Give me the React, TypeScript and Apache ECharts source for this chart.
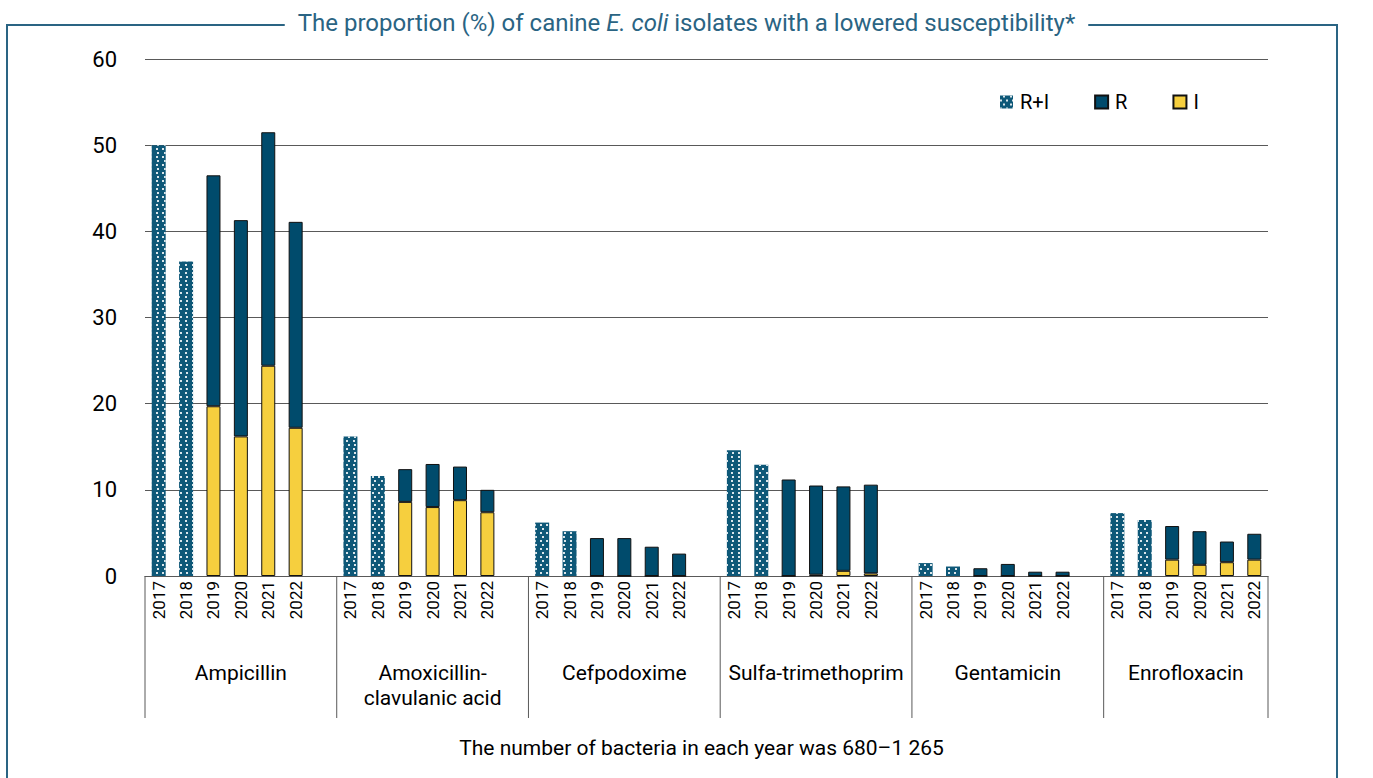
import React, { useEffect, useRef } from 'react';
import * as echarts from 'echarts';

const groups = ['Ampicillin', 'Amoxicillin-\nclavulanic acid', 'Cefpodoxime', 'Sulfa-trimethoprim', 'Gentamicin', 'Enrofloxacin'];
const years = ['2017', '2018', '2019', '2020', '2021', '2022'];
// R+I shown only for 2017 and 2018
const rPlusIValues = [
  [50.0, 36.5],
  [16.2, 11.6],
  [6.2, 5.2],
  [14.6, 12.9],
  [1.5, 1.1],
  [7.3, 6.5],
];
// R and I for 2019-2022
const rValues = [
  [26.8, 25.1, 27.1, 23.9],
  [3.8, 5.0, 3.9, 2.6],
  [4.4, 4.4, 3.4, 2.6],
  [11.2, 10.35, 9.8, 10.3],
  [0.9, 1.4, 0.5, 0.5],
  [3.9, 3.9, 2.4, 3.0],
];
const iValues = [
  [19.7, 16.2, 24.4, 17.2],
  [8.6, 8.0, 8.8, 7.4],
  [0, 0, 0, 0],
  [0, 0.15, 0.6, 0.3],
  [0, 0, 0, 0],
  [1.9, 1.3, 1.6, 1.9],
];
const yTicks = [0, 10, 20, 30, 40, 50, 60];
const titleParts = ['The proportion (%) of canine ', 'E. coli', ' isolates with a lowered susceptibility*'];
const footnote = 'The number of bacteria in each year was 680–1 265';

const FONT = 'Roboto, "Noto Sans", sans-serif';
const TEAL = '#2A6483';
const R_COLOR = '#004B6C';
const I_COLOR = '#F6CF3E';
const RI_COLOR = '#0E5878';
const LINE = '#595959';

// categories: 6 years per group, plus a blank slot between groups
const categories: string[] = [];
groups.forEach((g, gi) => {
  years.forEach((y) => categories.push(`${gi}|${y}`));
  if (gi < groups.length - 1) categories.push(`${gi}|gap`);
});

const riData = categories.map((c) => {
  const [gi, y] = c.split('|');
  const yi = years.indexOf(y);
  return yi >= 0 && yi < 2 ? rPlusIValues[+gi][yi] : '-';
});
const rData = categories.map((c) => {
  const [gi, y] = c.split('|');
  const yi = years.indexOf(y);
  return yi >= 2 ? rValues[+gi][yi - 2] : '-';
});
const iData = categories.map((c) => {
  const [gi, y] = c.split('|');
  const yi = years.indexOf(y);
  return yi >= 2 ? iValues[+gi][yi - 2] : '-';
});

export default function App() {
  const ref = useRef<HTMLDivElement>(null);
  useEffect(() => {
    document.body.style.margin = '0';
    const chart = echarts.init(ref.current!, undefined, { renderer: 'svg' });
    const option: any = {
      animation: false,
      backgroundColor: '#fff',
      textStyle: { fontFamily: FONT },
      title: {
        text: `{a|${titleParts[0]}}{b|${titleParts[1]}}{a|${titleParts[2]}}`,
        left: 'center',
        top: 11,
        z: 10,
        backgroundColor: '#fff',
        padding: [0, 13],
        textStyle: {
          fontWeight: 'normal',
          rich: {
            a: { fontFamily: FONT, fontSize: 24, fontWeight: 'normal', color: TEAL },
            b: { fontFamily: FONT, fontSize: 24, fontWeight: 'normal', color: TEAL, fontStyle: 'italic' },
          },
        },
      },
      legend: {
        left: 995,
        top: 87,
        itemWidth: 13,
        itemHeight: 13,
        itemGap: 45,
        icon: 'rect',
        textStyle: { fontFamily: FONT, fontSize: 20, color: '#000', padding: [0, 0, 0, 2] },
        data: ['R+I', 'R', 'I'],
      },
      grid: { left: 145, right: 105, top: 59, bottom: 202, containLabel: false },
      xAxis: {
        type: 'category',
        data: categories,
        axisLine: { lineStyle: { color: LINE, width: 1 } },
        axisTick: { show: false },
        axisLabel: {
          interval: 0,
          rotate: 90,
          margin: 5,
          fontSize: 17,
          color: '#000',
          fontFamily: FONT,
          formatter: (v: string) => {
            const y = v.split('|')[1];
            return y === 'gap' ? '' : y;
          },
        },
      },
      yAxis: {
        type: 'value',
        min: 0,
        max: 60,
        interval: 10,
        axisLine: { show: false },
        axisTick: { show: false },
        axisLabel: {
          fontSize: 22,
          color: '#000',
          margin: 28,
          fontFamily: FONT,
          customValues: yTicks,
        },
        splitLine: { lineStyle: { color: LINE, width: 1 } },
      },
      series: [
        {
          name: 'R+I',
          type: 'bar',
          stack: 's',
          barWidth: 14,
          data: riData,
          itemStyle: {
            color: RI_COLOR,
            decal: {
              symbol: 'rect',
              symbolSize: 1,
              color: 'rgba(255,255,255,0.85)',
              dashArrayX: [[1.2, 3.8], [0, 2.5, 1.2, 1.3]],
              dashArrayY: [1.2, 1.4],
              rotation: 0,
            },
          },
        },
        {
          name: 'I',
          type: 'bar',
          stack: 's',
          barWidth: 14,
          data: iData,
          itemStyle: { color: I_COLOR, borderColor: '#111', borderWidth: 1 },
        },
        {
          name: 'R',
          type: 'bar',
          stack: 's',
          barWidth: 14,
          data: rData,
          itemStyle: { color: R_COLOR, borderColor: '#111', borderWidth: 1 },
        },
      ],
    };
    chart.setOption(option);

    // group separators and labels, positioned via the category axis scale
    const px = (c: string) => chart.convertToPixel({ xAxisIndex: 0 }, c) as number;
    const band = px(categories[1]) - px(categories[0]);
    const y0 = chart.convertToPixel({ yAxisIndex: 0 }, 0) as number;
    const graphics: any[] = [
      {
        type: 'rect',
        z: 0,
        silent: true,
        shape: { x: 7, y: 25, width: 1330, height: 800 },
        style: { fill: 'none', stroke: TEAL, lineWidth: 2 },
      },
    ];
    const bounds: number[] = [];
    groups.forEach((g, gi) => {
      const first = categories.indexOf(`${gi}|2017`);
      const last = categories.indexOf(`${gi}|2022`);
      const start = px(categories[first]) - band / 2;
      const end = gi < groups.length - 1 ? px(categories[last + 1]) + band / 2 : px(categories[last]) + band / 2;
      bounds.push(start);
      if (gi === groups.length - 1) bounds.push(end);
      graphics.push({
        type: 'text',
        z: 5,
        x: (start + end) / 2,
        y: y0 + 84,
        style: {
          text: g,
          fontFamily: FONT,
          fontSize: 21,
          fill: '#000',
          align: 'center',
          verticalAlign: 'top',
          lineHeight: 25,
        },
      });
    });
    bounds.forEach((x) => {
      graphics.push({
        type: 'line',
        z: 5,
        shape: { x1: x, y1: y0, x2: x, y2: y0 + 142 },
        style: { stroke: LINE, lineWidth: 1 },
      });
    });
    graphics.push({
      type: 'text',
      z: 5,
      x: (bounds[0] + bounds[bounds.length - 1]) / 2 - 5,
      y: y0 + 172,
      style: {
        text: footnote,
        fontFamily: FONT,
        fontSize: 21,
        fill: '#000',
        align: 'center',
        verticalAlign: 'middle',
      },
    });
    chart.setOption({ graphic: graphics });

    return () => chart.dispose();
  }, []);
  return <div ref={ref} style={{ position: 'fixed', left: 0, top: 0, width: 1373, height: 778 }} />;
}
